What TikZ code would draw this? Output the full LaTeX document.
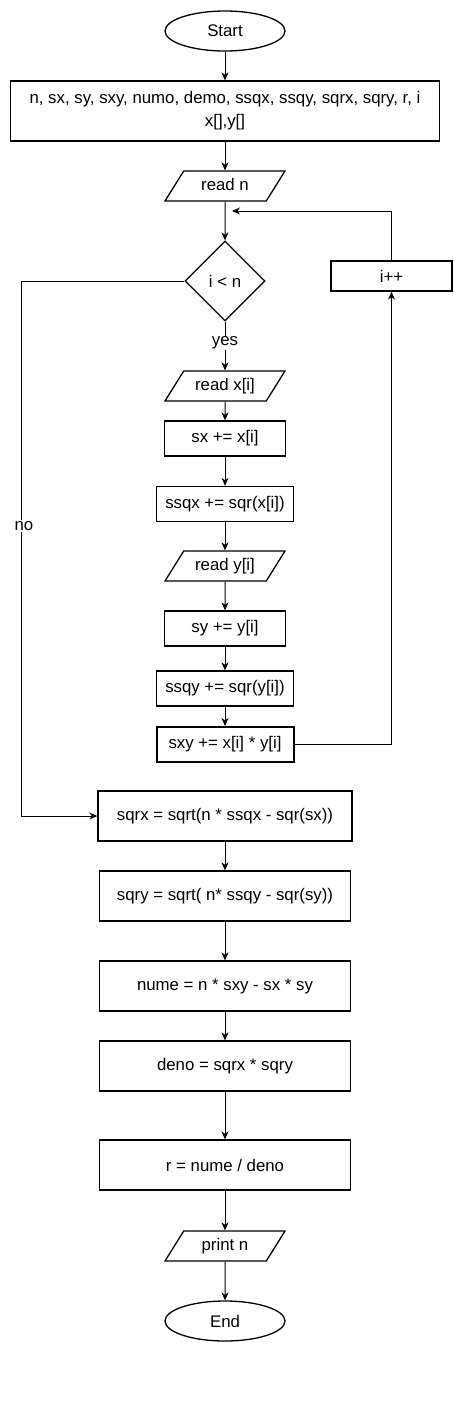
\documentclass[tikz,border=0pt]{standalone}
\usepackage{fontspec}
\setmainfont{Liberation Sans}
\usepackage{tikz}
\usetikzlibrary{shapes.geometric, arrows.meta, positioning, calc}

\begin{document}
\begin{tikzpicture}[x=1pt, y=-1pt, >={Stealth[length=8pt, width=7pt, inset=2.5pt]}, font=\fontsize{16.8}{23}\selectfont,
    terminal/.style={ellipse, draw, line width=1.3pt, minimum width=120pt, minimum height=40pt, inner sep=0pt},
    process/.style={rectangle, draw, line width=1.3pt, inner sep=0pt, minimum height=35pt},
    io/.style={trapezium, trapezium left angle=58, trapezium right angle=122, trapezium stretches body, draw, line width=1.3pt, minimum width=120pt, text height=12pt, text depth=3.5pt, inner xsep=0pt, inner ysep=7.25pt},
    decision/.style={diamond, draw, line width=1.3pt, minimum width=80pt, minimum height=80pt, inner sep=0pt},
    flow/.style={->, line width=1pt},
    lbl/.style={fill=white, inner sep=1pt}]
    \useasboundingbox (0,0) rectangle (462,1409);

    % set-up
    \node [terminal] (start) at (225,31) {Start};
    \node [process, minimum width=429pt, minimum height=60pt, align=center] (vars) at (225,111) {n, sx, sy, sxy, numo, demo, ssqx, ssqy, sqrx, sqry, r, i\\x[],y[]};
    \node [io] (readn) at (225,186) {read n};

    % loop body
    \node [decision] (cond) at (225,281) {i < n};
    \node [process, minimum width=121pt, minimum height=30pt] (inc) at (391.5,276) {i++};
    \node [io] (readx) at (225,386) {read x[i]};
    \node [process, minimum width=121pt] (sx) at (225,438.5) {sx += x[i]};
    \node [process, minimum width=137pt] (ssqx) at (225,504) {ssqx += sqr(x[i])};
    \node [io] (ready) at (225,566) {read y[i]};
    \node [process, minimum width=121pt] (sy) at (225,628.5) {sy += y[i]};
    \node [process, minimum width=137pt] (ssqy) at (225,688.5) {ssqy += sqr(y[i])};
    \node [process, minimum width=137pt, line width=2pt] (sxy) at (225,744.5) {sxy += x[i] * y[i]};

    % result
    \node [process, minimum width=254pt, minimum height=50pt] (sqrx) at (225,816) {sqrx = sqrt(n * ssqx - sqr(sx))};
    \node [process, minimum width=251pt, minimum height=50pt] (sqry) at (225,896) {sqry = sqrt( n* ssqy - sqr(sy))};
    \node [process, minimum width=251pt, minimum height=50pt] (nume) at (225,986) {nume = n * sxy - sx * sy};
    \node [process, minimum width=251pt, minimum height=50pt] (deno) at (225,1066) {deno = sqrx * sqry};
    \node [process, minimum width=251pt, minimum height=50pt] (res) at (225,1165) {r = nume / deno};
    \node [io] (printn) at (225,1246) {print n};
    \node [terminal] (stop) at (225,1321) {End};

    \draw [flow] (start) -- (vars);
    \draw [flow] (vars) -- (readn);
    \draw [flow] (readn) -- (cond);
    \draw [flow] (cond) -- node [lbl, pos=0.44] (yes) {yes} (readx);
    \draw [flow] (readx) -- (sx);
    \draw [flow] (sx) -- (ssqx);
    \draw [flow] (ssqx) -- (ready);
    \draw [flow] (ready) -- (sy);
    \draw [flow] (sy) -- (ssqy);
    \draw [flow] (ssqy) -- (sxy);
    \draw [flow] (sqrx) -- (sqry);
    \draw [flow] (sqry) -- (nume);
    \draw [flow] (nume) -- (deno);
    \draw [flow] (deno) -- (res);
    \draw [flow] (res) -- (printn);
    \draw [flow] (printn) -- (stop);

    % back to the test
    \coordinate (back) at (232,211);
    \draw [flow] (sxy.east) -| (inc.south);
    \draw [flow] (inc.north) |- (back);

    % leave the loop
    \coordinate (nocorner) at (21,281);
    \draw [flow] (cond.west) -- (nocorner) |- (sqrx.west);
    \node [lbl] (no) at (24,526) {no};
\end{tikzpicture}
\end{document}
